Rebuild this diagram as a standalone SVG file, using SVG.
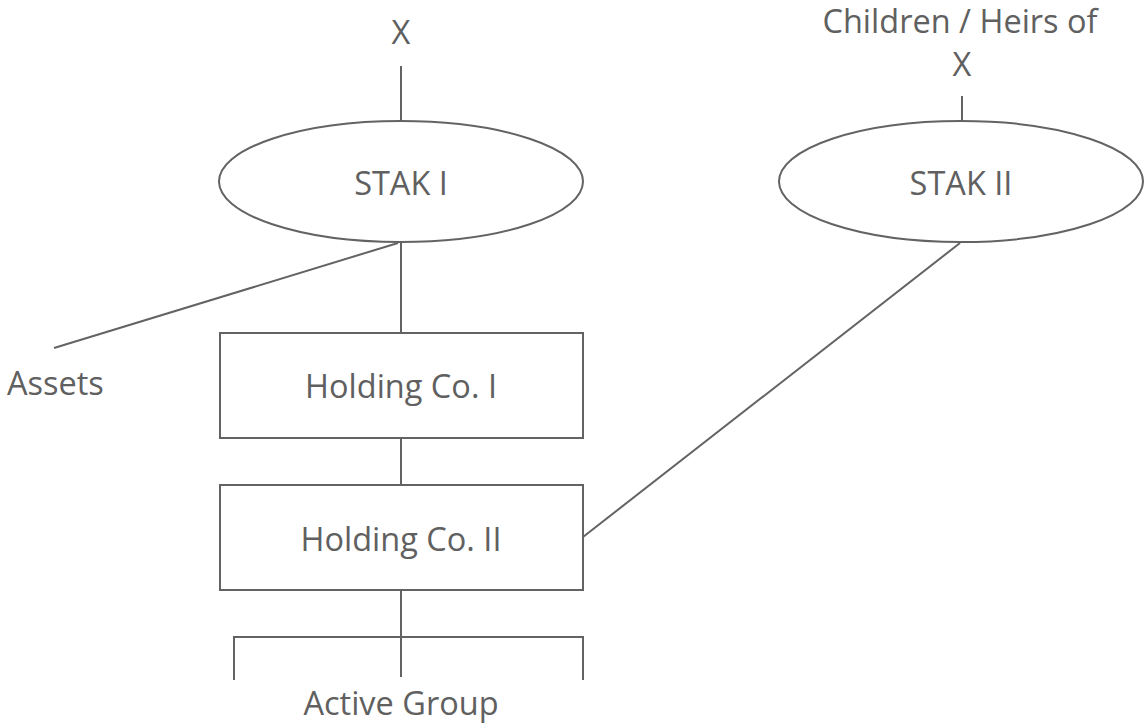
<svg xmlns="http://www.w3.org/2000/svg" width="1144" height="728" viewBox="0 0 1144 728">
<style>
.t{font-family:"Open Sans","Noto Sans",sans-serif;font-size:32.5px;fill:#606060;text-anchor:middle}
.s{fill:none;stroke:#636363;stroke-width:2}
.n{fill:#fff;stroke:#636363;stroke-width:2}
</style>
<rect width="1144" height="728" fill="#fff"/>
<g id="connectors" class="s">
<line x1="401" y1="66" x2="401" y2="121"/>
<line x1="962" y1="96" x2="962" y2="121"/>
<line x1="401" y1="242" x2="401" y2="333"/>
<line x1="398" y1="243" x2="54" y2="348"/>
<line x1="401" y1="438" x2="401" y2="485"/>
<line x1="960" y1="243" x2="583" y2="537"/>
<line x1="401" y1="590" x2="401" y2="677"/>
<polyline points="234,680 234,637 583,637 583,680"/>
</g>
<g id="label-x">
<text class="t" x="401" y="44">X</text>
</g>
<g id="label-children">
<text class="t" x="960" y="33">Children / Heirs of</text>
<text class="t" x="962" y="76">X</text>
</g>
<g id="stak1">
<ellipse class="n" cx="401" cy="181.5" rx="182" ry="60.5"/>
<text class="t" x="401" y="195">STAK I</text>
</g>
<g id="stak2">
<ellipse class="n" cx="961" cy="181.5" rx="182" ry="60.5"/>
<text class="t" x="961" y="195">STAK II</text>
</g>
<g id="assets">
<text class="t" x="7" y="395" style="text-anchor:start">Assets</text>
</g>
<g id="holding1">
<rect class="n" x="220" y="333" width="363" height="105"/>
<text class="t" x="401" y="398">Holding Co. I</text>
</g>
<g id="holding2">
<rect class="n" x="220" y="485" width="363" height="105"/>
<text class="t" x="401" y="551">Holding Co. II</text>
</g>
<g id="active-group">
<text class="t" x="401" y="715">Active Group</text>
</g>
</svg>
